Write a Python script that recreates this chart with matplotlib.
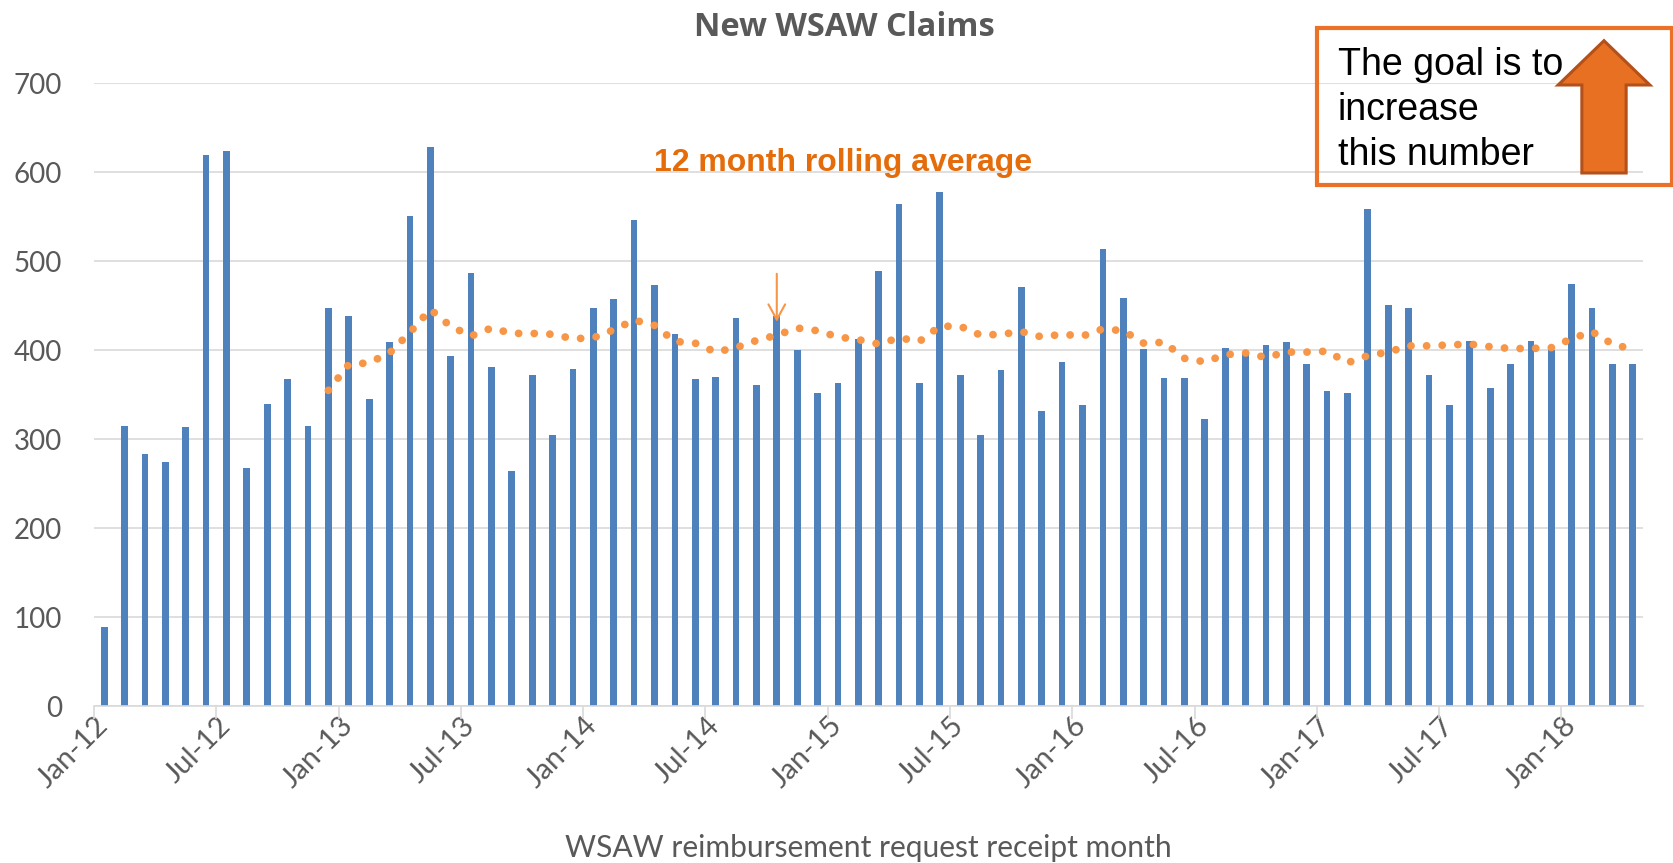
import numpy as np
import matplotlib
matplotlib.use("Agg")
import matplotlib.pyplot as plt
import matplotlib.patches as mpatches

# Datos: reclamos nuevos por mes (Jan-12 .. Apr-18)
meses = [f"{m}-{a}" for a in range(12, 19) for m in
         ["Jan", "Feb", "Mar", "Apr", "May", "Jun", "Jul", "Aug", "Sep", "Oct", "Nov", "Dec"]][:76]

reclamos = [89, 315, 283, 275, 314, 619, 624, 268, 340, 368, 315, 447,
            438, 345, 409, 551, 628, 394, 487, 381, 264, 372, 305, 379,
            447, 458, 546, 473, 418, 368, 370, 436, 361, 438, 400, 352,
            363, 413, 489, 564, 363, 578, 372, 305, 378, 471, 332, 387,
            339, 514, 459, 401, 369, 369, 323, 403, 398, 406, 409, 385,
            354, 352, 559, 451, 447, 372, 339, 410, 358, 385, 410, 400,
            475, 447, 385, 385]

# promedio movil de 12 meses (desde Dec-12)
inicio_promedio = 11
promedio = [355, 384, 386, 397, 420, 446, 427, 416, 425, 419, 419, 418,
            413, 414, 423, 434, 428, 410, 408, 398, 403, 411, 417, 425,
            422, 415, 412, 407, 414, 410, 427, 427, 417, 418, 421, 415,
            418, 416, 424, 422, 408, 409, 391, 387, 395, 397, 392, 398,
            398, 399, 386, 394, 398, 405, 405, 406, 407, 404, 402, 402,
            403, 413, 421, 407, 401]

etiquetas_x = ["Jan-12", "Jul-12", "Jan-13", "Jul-13", "Jan-14", "Jul-14", "Jan-15",
               "Jul-15", "Jan-16", "Jul-16", "Jan-17", "Jul-17", "Jan-18"]
mes_flecha = "Oct-14"

AZUL = "#4F81BD"
NARANJA = "#F79646"
NARANJA_OSC = "#E46C0A"
GRIS = "#595959"
W, H = 1673, 863

fig = plt.figure(figsize=(W / 100, H / 100), dpi=100)
ax = fig.add_axes([94 / W, 1 - 706.3 / H, 1549 / W, 623 / H])

x = np.arange(len(reclamos))
ax.bar(x, reclamos, width=0.33, color=AZUL, zorder=2)

xp = np.arange(inicio_promedio, inicio_promedio + len(promedio))
ax.plot(xp, promedio, color=NARANJA, lw=5.6, linestyle=(0, (0.01, 2.0)),
        dash_capstyle="round", zorder=3)

# flecha pequeña sobre el mes marcado
i = meses.index(mes_flecha)
ax.annotate("", xy=(i, 432), xytext=(i, 486),
            arrowprops=dict(arrowstyle="->,head_length=0.55,head_width=0.3",
                            color=NARANJA, lw=1.5, mutation_scale=20,
                            shrinkA=0, shrinkB=0), zorder=4)

ax.set_xlim(-0.5, len(reclamos) - 0.5)
ax.set_ylim(0, 700)
ax.set_yticks(range(0, 701, 100))
ax.yaxis.grid(True, color="#D9D9D9", lw=1.2)
ax.set_axisbelow(True)
for s in ["top", "right", "left"]:
    ax.spines[s].set_visible(False)
ax.spines["bottom"].set_color("#D9D9D9")
ax.spines["bottom"].set_linewidth(1.2)
ax.tick_params(axis="y", length=0, pad=23, labelsize=20, labelcolor=GRIS)

pos_etiq = [meses.index(e) for e in etiquetas_x]
ax.set_xticks(pos_etiq)
ax.set_xticklabels(etiquetas_x, rotation=45, ha="right", va="center",
                   rotation_mode="anchor", fontsize=21, color=GRIS)
ax.tick_params(axis="x", length=0, pad=11)
ax.set_xticks(np.array(pos_etiq) - 0.5, minor=True)
ax.tick_params(axis="x", which="minor", length=9, width=1.2, color="#D9D9D9")

for t in ax.get_yticklabels():
    t.set_fontfamily("Lato")
for t in ax.get_xticklabels():
    t.set_fontfamily("Lato")

fig.text(0.5045, 1 - 28 / H, "New WSAW Claims", ha="center", va="center",
         fontsize=23.5, fontweight="bold", color=GRIS, family="Open Sans")
fig.text(868 / W, 1 - 848 / H, "WSAW reimbursement request receipt month",
         ha="center", va="center", fontsize=21.6, color=GRIS, family="Lato")
fig.text(654 / W, 1 - 171.5 / H, "12 month rolling average", ha="left", va="baseline",
         fontsize=23, fontweight="bold", color=NARANJA_OSC, family="Liberation Sans")

# cuadro con la meta
caja = mpatches.Rectangle((1316.7 / W, 1 - 185 / H), 355 / W, 156.7 / H,
                          transform=fig.transFigure, fill=False,
                          edgecolor="#EB7028", lw=3)
fig.patches.append(caja)
for linea, base in zip(["The goal is to", "increase", "this number"], [75, 119.5, 165]):
    fig.text(1338 / W, 1 - base / H, linea, ha="left", va="baseline",
             fontsize=27, color="black", family="Liberation Sans")
flecha = mpatches.FancyArrow(1604 / W, 1 - 173 / H, 0, 132.3 / H, width=44.3 / W,
                             head_width=91.7 / W, head_length=44.3 / H,
                             length_includes_head=True, transform=fig.transFigure,
                             facecolor="#E87023", edgecolor="#B4501A", lw=2.2)
fig.patches.append(flecha)

fig.savefig("out.png", dpi=100)
